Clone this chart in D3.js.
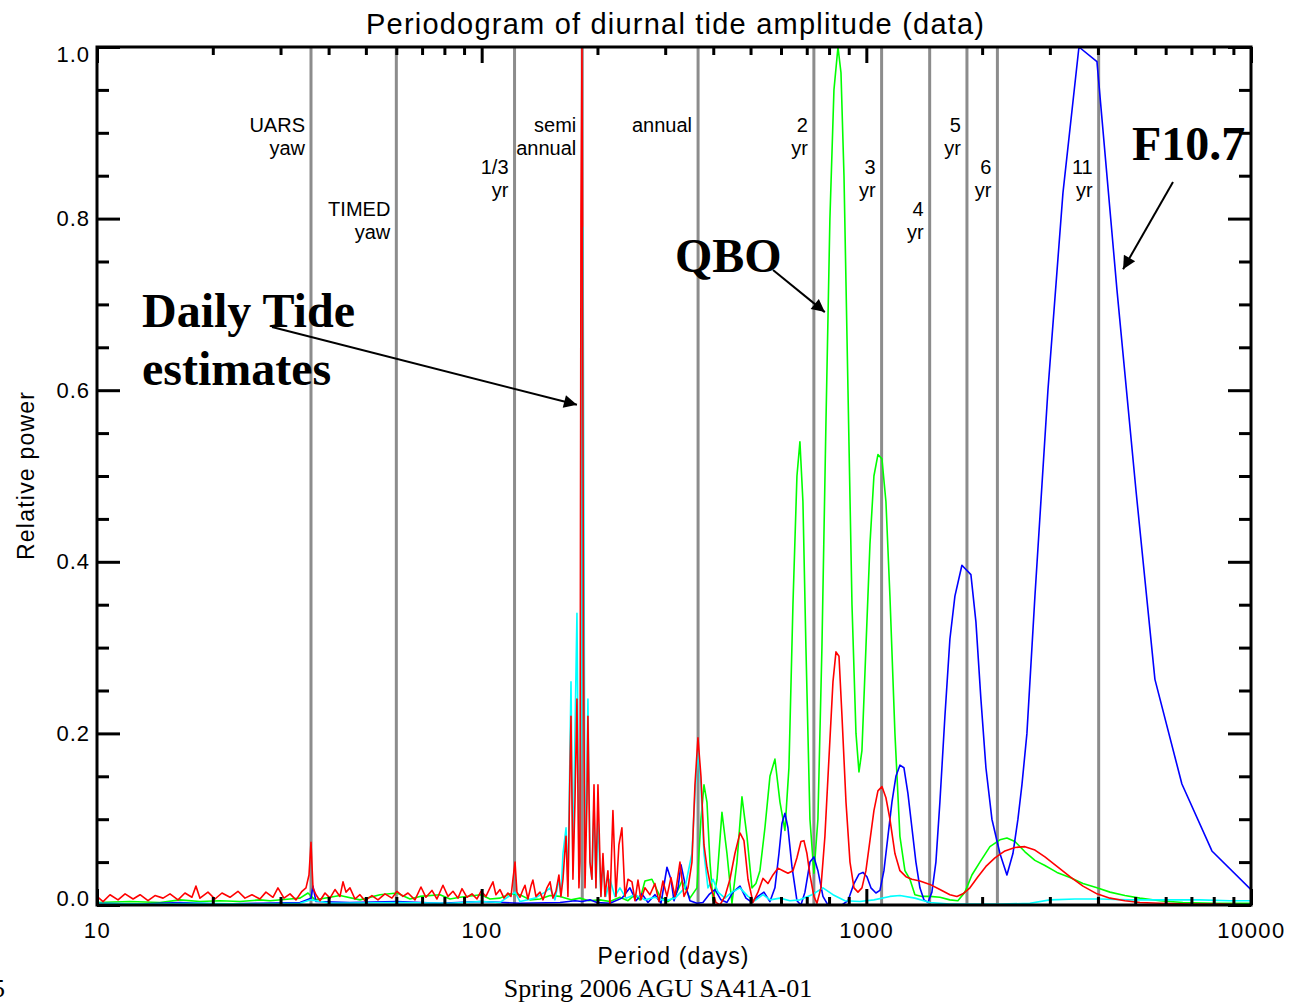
<!doctype html>
<html>
<head>
<meta charset="UTF-8">
<title>Periodogram of diurnal tide amplitude</title>
<script src="https://d3js.org/d3.v7.min.js"></script>
<style>
    body { margin: 0; background: #fff; }
    svg { display: block; }
    text { font-family: "Liberation Sans", Arial, Helvetica, sans-serif; fill: #000; }
    .serif { font-family: "Liberation Serif", "Times New Roman", serif; }
</style>
</head>
<body>
<svg id="chart" width="1292" height="1003"></svg>
<script>
// periods (days) of the reference lines and their labels
var refPeriods = [36, 60, 121.75, 182.6, 365.25, 730.5, 1095.75, 1461, 1826.25, 2191.5, 4017.75];
var refLabels = [["UARS", "yaw"], ["TIMED", "yaw"], ["1/3", "yr"], ["semi", "annual"], ["annual"],
                 ["2", "yr"], ["3", "yr"], ["4", "yr"], ["5", "yr"], ["6", "yr"], ["11", "yr"]];

var xMajor = [10, 100, 1000, 10000];
var xMinor = [20, 30, 40, 50, 60, 70, 80, 90, 200, 300, 400, 500, 600, 700, 800, 900,
              2000, 3000, 4000, 5000, 6000, 7000, 8000, 9000];
var yMajor = [0, 0.2, 0.4, 0.6, 0.8, 1.0];
var yMinor = [0.05, 0.1, 0.15, 0.25, 0.3, 0.35, 0.45, 0.5, 0.55, 0.65, 0.7, 0.75, 0.85, 0.9, 0.95];

// [period (days), relative power]
var redSeries = [
[10,0.010],[10.37,0.004],[10.81,0.012],[11.34,0.006],[11.83,0.013],[12.41,0.007],[12.94,0.012],[13.57,0.005],
[14.15,0.011],[14.85,0.008],[15.48,0.013],[16.24,0.006],[16.93,0.014],[17.65,0.009],[18.08,0.022],[18.52,0.008],
[19.43,0.015],[20.26,0.007],[21.13,0.014],[22.17,0.009],[23.25,0.016],[24.25,0.008],[25.28,0.012],[26.52,0.007],
[27.49,0.015],[28.67,0.009],[29.54,0.020],[30.62,0.008],[31.75,0.013],[32.91,0.006],[34.11,0.016],[34.94,0.020],
[35.57,0.035],[36.0,0.073],[36.43,0.020],[37.09,0.012],[37.99,0.005],[39.15,0.014],[40.34,0.008],[41.56,0.018],
[42.82,0.010],[43.6,0.027],[44.39,0.015],[45.46,0.020],[46.84,0.007],[48.26,0.012],[49.73,0.005],[51.85,0.011],
[53.75,0.006],[56.05,0.013],[58.45,0.008],[60.23,0.016],[62.43,0.010],[64.33,0.014],[67.08,0.006],[69.53,0.021],
[71.64,0.009],[74.26,0.017],[76.52,0.007],[79.32,0.023],[81.73,0.010],[84.22,0.016],[86.78,0.008],[88.88,0.019],
[91.58,0.009],[94.37,0.013],[97.23,0.007],[99.6,0.016],[102.6,0.010],[105.1,0.020],[107.0,0.027],[108.9,0.012],
[111.6,0.018],[114.3,0.008],[117.0,0.014],[119.2,0.010],[120.6,0.030],[122.1,0.050],[123.5,0.015],[125.8,0.009],
[128.1,0.018],[129.6,0.023],[131.9,0.007],[134.3,0.022],[135.9,0.029],[138.4,0.010],[141.8,0.015],[144.4,0.006],
[147.8,0.020],[150.6,0.027],[153.2,0.008],[156.0,0.016],[158.8,0.035],[160.7,0.010],[162.7,0.030],[164.7,0.065],
[165.7,0.080],[167.6,0.010],[169.7,0.160],[170.7,0.220],[172.7,0.030],[174.8,0.120],[176.9,0.240],[179.0,0.020],
[180.1,0.050],[181.2,0.800],[182.3,1.000],[184.0,0.300],[185.6,0.020],[187.8,0.120],[188.9,0.220],[191.2,0.050],
[193.5,0.030],[195.9,0.140],[198.2,0.020],[200.6,0.140],[204.2,0.010],[206.7,0.060],[209.2,0.010],[212.9,0.040],
[215.5,0.000],[219.4,0.110],[223.4,0.010],[227.4,0.070],[231.5,0.090],[235.8,0.010],[240.1,0.030],[245.9,0.027],
[250.3,0.005],[254.9,0.029],[259.5,0.006],[265.7,0.020],[273.8,0.012],[282.1,0.025],[289.0,0.004],[296.0,0.028],
[303.2,0.010],[310.5,0.032],[318.1,0.010],[327.7,0.050],[335.7,0.010],[343.8,0.020],[352.1,0.050],[358.5,0.140],
[365.0,0.195],[371.6,0.150],[378.4,0.070],[385.2,0.044],[394.5,0.020],[406.6,0.003],[416.4,0.000],[429.0,0.010],
[442.0,0.030],[455.4,0.060],[469.4,0.084],[480.7,0.075],[492.4,0.030],[507.3,0.003],[522.7,0.015],[538.5,0.031],
[554.9,0.025],[571.8,0.035],[589.2,0.043],[607.0,0.040],[625.5,0.037],[644.5,0.040],[660.1,0.055],[676.1,0.074],
[688.3,0.075],[700.8,0.060],[713.5,0.035],[730.7,0.010],[744.0,0.002],[762.0,0.020],[780.4,0.080],[799.3,0.170],
[818.9,0.260],[833.8,0.295],[849.0,0.290],[864.4,0.220],[885.3,0.120],[906.8,0.050],[928.7,0.020],[951.2,0.015],
[974.0,0.020],[997.6,0.040],[1021.8,0.075],[1046.5,0.110],[1071.9,0.133],[1097.9,0.138],[1124.5,0.125],[1151.7,0.100],
[1186.7,0.060],[1222.7,0.040],[1267.4,0.033],[1313.7,0.030],[1378.1,0.028],[1463.1,0.024],[1553.3,0.018],[1649.2,0.012],
[1719.8,0.010],[1782.7,0.013],[1859.0,0.020],[1950.2,0.033],[2046.0,0.045],[2159.2,0.055],[2292.4,0.063],[2433.9,0.067],
[2584.0,0.068],[2743.4,0.064],[2912.7,0.056],[3130.2,0.045],[3383.3,0.033],[3657.2,0.022],[3976.9,0.013],[4298.8,0.008],
[4701.0,0.005],[5142.7,0.003],[5798.4,0.002],[6937.0,0.001],[8302.7,0.001],[10000,0.000]
];

var greenSeries = [
[10,0.003],[12.18,0.004],[14.58,0.003],[16.44,0.006],[18.52,0.004],[20.88,0.005],[23.53,0.004],[26.53,0.006],
[28.17,0.005],[31.75,0.007],[33.71,0.008],[35.36,0.014],[36.87,0.006],[40.34,0.009],[42.82,0.011],[48.26,0.006],
[54.41,0.012],[60.23,0.014],[65.12,0.007],[69.14,0.010],[77.93,0.012],[82.74,0.007],[87.84,0.009],[99.6,0.012],
[105.1,0.007],[111.6,0.008],[118.5,0.013],[125.8,0.012],[133.6,0.006],[141.8,0.007],[150.6,0.011],[159.8,0.010],
[170.7,0.006],[180.1,0.008],[190.0,0.005],[203.0,0.006],[215.5,0.004],[228.8,0.009],[240.1,0.005],[250.3,0.012],
[257.9,0.006],[265.7,0.028],[277.1,0.030],[290.7,0.010],[305.0,0.004],[318.1,0.010],[331.7,0.028],[347.9,0.008],
[362.8,0.020],[371.6,0.100],[378.4,0.140],[385.2,0.120],[392.2,0.050],[399.3,0.005],[409.1,0.030],[421.4,0.108],
[434.2,0.060],[447.3,0.002],[461.0,0.050],[475.0,0.126],[489.4,0.080],[504.3,0.020],[516.4,0.025],[528.9,0.040],
[545.0,0.090],[561.6,0.150],[578.6,0.170],[596.3,0.120],[614.3,0.087],[629.2,0.160],[644.5,0.350],[660.1,0.500],
[672.0,0.540],[684.2,0.470],[696.6,0.300],[713.5,0.100],[730.7,0.037],[748.4,0.100],[766.6,0.300],[785.1,0.560],
[804.1,0.800],[823.8,0.950],[843.9,1.000],[859.2,0.970],[874.8,0.850],[896.0,0.600],[917.7,0.350],[939.9,0.200],
[956.9,0.155],[974.0,0.180],[997.6,0.300],[1021.8,0.420],[1046.5,0.500],[1071.9,0.525],[1097.9,0.520],[1124.5,0.470],
[1151.7,0.360],[1186.7,0.200],[1222.7,0.080],[1259.8,0.040],[1298.1,0.030],[1337.5,0.012],[1394.7,0.010],[1463.1,0.010],
[1553.3,0.009],[1649.2,0.006],[1730.1,0.005],[1804.1,0.015],[1881.4,0.035],[1973.7,0.050],[2095.6,0.068],[2224.8,0.076],
[2320.0,0.078],[2433.9,0.074],[2584.0,0.062],[2743.4,0.052],[2912.7,0.046],[3130.2,0.038],[3383.3,0.032],[3657.2,0.025],
[3976.9,0.020],[4298.8,0.015],[4701.0,0.011],[5142.7,0.008],[5798.4,0.005],[6652.3,0.003],[8057.6,0.002],[10000,0.002]
];

var blueSeries = [
[10,0.002],[12.94,0.001],[16.44,0.003],[20.88,0.001],[26.53,0.002],[33.71,0.003],[36.0,0.008],[36.43,0.022],
[37.09,0.004],[45.46,0.003],[60.23,0.004],[77.93,0.002],[99.6,0.004],[125.8,0.002],[159.8,0.003],[174.8,0.005],
[182.3,0.004],[191.2,0.006],[199.4,0.003],[215.5,0.002],[231.5,0.008],[242.9,0.020],[251.8,0.005],[261.1,0.013],
[270.6,0.003],[282.1,0.012],[292.5,0.002],[303.2,0.044],[310.5,0.030],[316.2,0.005],[323.9,0.020],[329.7,0.047],
[337.7,0.025],[347.9,0.005],[362.8,0.002],[376.0,0.003],[389.8,0.012],[404.1,0.018],[418.8,0.006],[434.2,0.003],
[450.0,0.015],[469.4,0.022],[486.5,0.008],[504.3,0.003],[522.7,0.010],[541.8,0.015],[561.6,0.004],[578.6,0.020],
[592.7,0.060],[603.4,0.095],[614.3,0.107],[625.5,0.090],[640.6,0.045],[660.1,0.005],[676.1,0.000],[692.5,0.015],
[713.5,0.050],[730.7,0.056],[748.4,0.040],[771.3,0.010],[794.6,0.000],[828.8,0.000],[864.4,0.000],[896.0,0.005],
[928.7,0.025],[956.9,0.036],[979.9,0.038],[1003.6,0.033],[1027.9,0.020],[1059.1,0.014],[1084.8,0.017],[1111.1,0.040],
[1138.0,0.080],[1165.6,0.120],[1193.8,0.150],[1222.7,0.163],[1252.3,0.160],[1282.7,0.130],[1313.7,0.090],[1345.5,0.050],
[1378.1,0.020],[1411.5,0.006],[1445.7,0.003],[1480.7,0.015],[1516.6,0.050],[1553.3,0.120],[1600.6,0.220],[1649.2,0.310],
[1699.3,0.360],[1772.1,0.396],[1870.1,0.385],[1927.0,0.330],[1985.5,0.240],[2046.0,0.160],[2120.8,0.100],[2224.8,0.060],
[2320.0,0.035],[2404.9,0.060],[2478.0,0.100],[2538.0,0.140],[2615.1,0.200],[2743.4,0.360],[2965.5,0.600],[3244.5,0.830],
[3570.6,1.000],[3976.9,0.983],[4482.7,0.717],[5021.2,0.484],[5626.6,0.263],[6612.6,0.141],[7914.2,0.063],[10000,0.018]
];

var cyanSeries = [
[10,0.002],[13.73,0.001],[18.52,0.002],[24.99,0.001],[33.71,0.002],[36.0,0.006],[40.34,0.002],[61.33,0.003],
[82.74,0.002],[99.6,0.004],[111.6,0.003],[122.1,0.015],[125.8,0.004],[137.6,0.008],[146.1,0.015],[150.6,0.020],
[155.1,0.006],[158.8,0.030],[160.7,0.010],[162.7,0.060],[165.7,0.090],[167.6,0.020],[170.7,0.260],[172.7,0.040],
[174.8,0.200],[176.9,0.340],[179.0,0.050],[181.2,0.200],[183.4,0.790],[185.6,0.050],[187.8,0.150],[188.9,0.240],
[191.2,0.050],[193.5,0.030],[195.9,0.120],[198.2,0.020],[200.6,0.100],[204.2,0.010],[206.7,0.050],[210.4,0.010],
[215.5,0.030],[222.0,0.010],[228.8,0.020],[237.2,0.008],[250.3,0.012],[265.7,0.006],[282.1,0.009],[299.6,0.005],
[318.1,0.008],[337.7,0.020],[352.1,0.060],[358.5,0.130],[365.0,0.180],[371.6,0.140],[378.4,0.060],[387.5,0.020],
[399.3,0.030],[411.6,0.015],[429.0,0.008],[447.3,0.015],[469.4,0.020],[492.4,0.010],[513.4,0.005],[538.5,0.012],
[561.6,0.006],[596.3,0.008],[633.0,0.005],[672.0,0.006],[722.0,0.012],[771.3,0.020],[818.9,0.012],[879.8,0.005],
[962.5,0.004],[1046.5,0.006],[1151.7,0.010],[1222.7,0.011],[1337.5,0.008],[1463.1,0.003],[1649.2,0.001],[2224.8,0.001],
[2663.0,0.002],[3002.0,0.006],[3486.1,0.007],[4049.0,0.007],[4843.9,0.006],[5798.4,0.006],[7366.0,0.006],[8812.6,0.005],
[10000,0.005]
];

var seriesList = [
    { data: greenSeries, color: "#00ff00" },
    { data: blueSeries,  color: "#0000ff" },
    { data: cyanSeries,  color: "#00ffff" },
    { data: redSeries,   color: "#ff0000" }
];

var plotLeft = 97, plotRight = 1251, plotTop = 47, plotBottom = 905;

var x = d3.scaleLog().domain([10, 10000]).range([plotLeft, plotRight]);
var y = d3.scaleLinear().domain([0, 1]).range([plotBottom, plotTop]);

function drawChart() {
    var svg = d3.select("#chart");

    svg.append("rect").attr("width", 1292).attr("height", 1003).attr("fill", "#fff");

    svg.append("defs").append("clipPath").attr("id", "plotClip")
        .append("rect")
        .attr("x", plotLeft).attr("y", plotTop - 2)
        .attr("width", plotRight - plotLeft).attr("height", plotBottom - plotTop + 2);

    // grey reference periods
    svg.append("g").selectAll("line")
        .data(refPeriods)
        .enter().append("line")
        .attr("x1", function(d) { return x(d); })
        .attr("x2", function(d) { return x(d); })
        .attr("y1", plotTop)
        .attr("y2", plotBottom)
        .attr("stroke", "#8c8c8c")
        .attr("stroke-width", 3);

    // labels stacked in three rows
    var tierBase = [132, 174, 216];
    var refTier = [0, 2, 1, 0, 0, 0, 1, 2, 0, 1, 1];
    refPeriods.forEach(function(p, i) {
        var t = svg.append("text")
            .attr("text-anchor", "end")
            .attr("font-size", 20);
        refLabels[i].forEach(function(s, j) {
            t.append("tspan")
                .attr("x", x(p) - 6)
                .attr("y", tierBase[refTier[i]] + j * 22.5)
                .text(s);
        });
    });

    // spectra
    var line = d3.line()
        .x(function(d) { return x(d[0]); })
        .y(function(d) { return y(d[1]); });

    svg.append("g").attr("clip-path", "url(#plotClip)")
        .selectAll("path")
        .data(seriesList)
        .enter().append("path")
        .attr("d", function(d) { return line(d.data); })
        .attr("fill", "none")
        .attr("stroke", function(d) { return d.color; })
        .attr("stroke-width", 1.6)
        .attr("stroke-linejoin", "round");

    // axes, ticks pointing inward on all four sides
    function styleAxis(g) {
        g.select(".domain").remove();
        g.selectAll(".tick line").attr("stroke", "#000").attr("stroke-width", 3);
        g.selectAll("text").attr("font-size", 22).attr("fill", "#000")
            .attr("font-family", "Liberation Sans, Arial, sans-serif");
    }

    svg.append("g").attr("transform", "translate(0," + plotBottom + ")")
        .call(d3.axisBottom(x).tickValues(xMajor).tickFormat(d3.format("d"))
            .tickSizeInner(-16).tickSizeOuter(0).tickPadding(17))
        .call(styleAxis)
        .selectAll("text").attr("letter-spacing", "1.5px");
    svg.append("g").attr("transform", "translate(0," + plotBottom + ")")
        .call(d3.axisBottom(x).tickValues(xMinor).tickFormat("").tickSize(-8))
        .call(styleAxis);
    svg.append("g").attr("transform", "translate(0," + plotTop + ")")
        .call(d3.axisTop(x).tickValues(xMajor).tickFormat("").tickSize(-16))
        .call(styleAxis);
    svg.append("g").attr("transform", "translate(0," + plotTop + ")")
        .call(d3.axisTop(x).tickValues(xMinor).tickFormat("").tickSize(-8))
        .call(styleAxis);

    var leftAxis = svg.append("g").attr("transform", "translate(" + plotLeft + ",0)")
        .call(d3.axisLeft(y).tickValues(yMajor).tickFormat(d3.format(".1f"))
            .tickSizeInner(-23).tickSizeOuter(0).tickPadding(7))
        .call(styleAxis);
    // end labels are pulled inside the frame
    leftAxis.selectAll("text")
        .attr("letter-spacing", "1px")
        .attr("y", function(d) { return d === 1 ? 7 : (d === 0 ? -7 : 0); });
    svg.append("g").attr("transform", "translate(" + plotLeft + ",0)")
        .call(d3.axisLeft(y).tickValues(yMinor).tickFormat("").tickSize(-12))
        .call(styleAxis);
    svg.append("g").attr("transform", "translate(" + plotRight + ",0)")
        .call(d3.axisRight(y).tickValues(yMajor).tickFormat("").tickSize(-23))
        .call(styleAxis);
    svg.append("g").attr("transform", "translate(" + plotRight + ",0)")
        .call(d3.axisRight(y).tickValues(yMinor).tickFormat("").tickSize(-12))
        .call(styleAxis);

    svg.append("rect")
        .attr("x", plotLeft).attr("y", plotTop)
        .attr("width", plotRight - plotLeft).attr("height", plotBottom - plotTop)
        .attr("fill", "none").attr("stroke", "#000").attr("stroke-width", 3);

    // titles
    svg.append("text")
        .attr("x", 675).attr("y", 34)
        .attr("text-anchor", "middle")
        .attr("font-size", 29)
        .attr("textLength", 618).attr("lengthAdjust", "spacing")
        .text("Periodogram of diurnal tide amplitude (data)");

    svg.append("text")
        .attr("x", 673).attr("y", 964)
        .attr("text-anchor", "middle")
        .attr("font-size", 23)
        .attr("textLength", 151).attr("lengthAdjust", "spacing")
        .text("Period (days)");

    svg.append("text")
        .attr("transform", "translate(34,476) rotate(-90)")
        .attr("text-anchor", "middle")
        .attr("font-size", 23)
        .attr("textLength", 168).attr("lengthAdjust", "spacing")
        .text("Relative power");

    svg.append("text").attr("class", "serif")
        .attr("x", 658).attr("y", 997)
        .attr("text-anchor", "middle")
        .attr("font-size", 26)
        .text("Spring 2006 AGU SA41A-01");

    // page number, cut by the left edge as in the slide
    svg.append("text").attr("class", "serif")
        .attr("x", -8).attr("y", 997)
        .attr("font-size", 26)
        .text("5");

    // annotations
    svg.select("defs").append("marker")
        .attr("id", "head")
        .attr("viewBox", "0 0 10 10")
        .attr("refX", 10).attr("refY", 5)
        .attr("markerWidth", 20).attr("markerHeight", 13)
        .attr("markerUnits", "userSpaceOnUse")
        .attr("orient", "auto")
        .append("path").attr("d", "M0,0 L10,5 L0,10 z").attr("fill", "#000");

    var notes = [
        { lines: ["Daily Tide", "estimates"], tx: 142, ty: 327, from: [272, 327], to: [176.9, 0.583] },
        { lines: ["QBO"], tx: 675, ty: 272, from: [773, 270], to: [780, 0.691] },
        { lines: ["F10.7"], tx: 1132, ty: 160, from: [1173, 182], to: [4650, 0.741] }
    ];
    notes.forEach(function(n) {
        var t = svg.append("text").attr("class", "serif")
            .attr("font-size", 48).attr("font-weight", "bold");
        n.lines.forEach(function(s, j) {
            t.append("tspan").attr("x", n.tx).attr("y", n.ty + j * 58).text(s);
        });
        svg.append("line")
            .attr("x1", n.from[0]).attr("y1", n.from[1])
            .attr("x2", x(n.to[0])).attr("y2", y(n.to[1]))
            .attr("stroke", "#000").attr("stroke-width", 2)
            .attr("marker-end", "url(#head)");
    });
}

drawChart();
</script>
</body>
</html>
